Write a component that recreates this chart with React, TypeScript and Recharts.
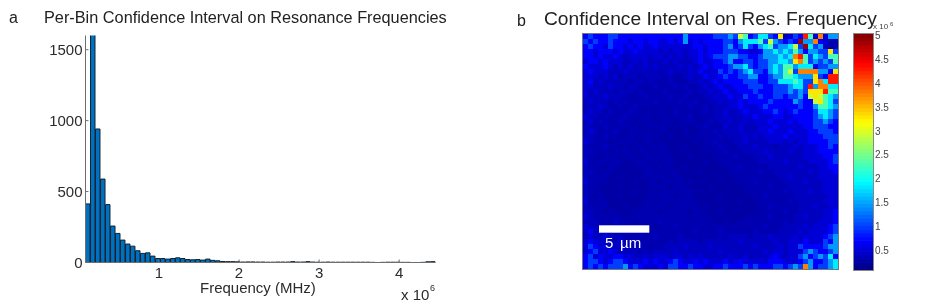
import { Bar, BarChart, Scatter, ScatterChart, XAxis, YAxis } from 'recharts'

// frequency in units of 1e6 (bin centres) and counts per bin
const binCenters = [
  0.113, 0.176, 0.238, 0.301, 0.363, 0.426, 0.488, 0.550, 0.613, 0.675,
  0.738, 0.800, 0.863, 0.925, 0.988, 1.050, 1.113, 1.175, 1.238, 1.300,
  1.363, 1.425, 1.488, 1.550, 1.613, 1.675, 1.738, 1.800, 1.863, 1.925,
  1.988, 2.050, 2.113, 2.175, 2.238, 2.300, 2.363, 2.425, 2.488, 2.550,
  2.613, 2.675, 2.738, 2.800, 2.863, 2.925, 2.988, 3.050, 3.113, 3.175,
  3.238, 3.300, 3.363, 3.425, 3.488, 3.550, 3.613, 3.675, 3.738, 3.800,
  3.863, 3.925, 3.988, 4.050, 4.113, 4.175, 4.238, 4.300, 4.363, 4.425,
]
const binCounts = [
  413, 1800, 941, 588, 408, 257, 205, 158, 130, 115,
  83, 64, 68, 45, 28, 28, 24, 28, 33, 28,
  21, 19, 21, 17, 24, 15, 12, 7, 6, 6,
  5, 3, 4, 4, 3, 3, 2, 2, 3, 3,
  3, 6, 3, 3, 6, 3, 2, 2, 3, 2,
  2, 2, 2, 2, 2, 2, 2, 1, 0, 1,
  2, 2, 2, 1, 1, 0, 0, 1, 5, 6,
]
const freqTicks = [1, 2, 3, 4]
const countTicks = [0, 500, 1000, 1500]
const barData = binCenters.map((f, i) => ({ f, count: binCounts[i] }))

// code letter of each map cell -> confidence interval (x 1e6)
const levelCodes = '123456789abcde'
const levelValues = [0.26, 0.32, 0.39, 0.5, 0.7, 1.0, 1.45, 1.85, 2.3, 2.9, 3.3, 3.8, 4.3, 4.9]

const mapRows = [
  '5655566555 5555555555 7555556667 6a9568865b 3465d94c47 7',
  '6565565554 5545544545 7454555566 5788896a76 565e77c54 2 2',
  '5655465545 4544544444 4455455567 5686578967 78a6e86732 2',
  '5545554544 5444434344 3445455566 6554457787 879757766b 6',
  '5545445434 4443443434 3445456667 7665567778 78cd968769 9',
  '4554544433 4343334343 3345445567 5566566778 87bc967676 9',
  '5444543434 3343433334 3434545556 7786566787 9978885667 7',
  '4544433343 3333323433 3435444656 5678665787 9a6cccc775 b',
  '4443434233 3233332322 3433544565 5667755677 998777b65d d',
  '4534333332 3323222322 2334345455 5566655668 889866bc8d d',
  '4433343323 3222322232 3223434544 5556665566 67886d7cc8 8',
  '4343332333 2322223222 2323343454 4555655566 67676bbbd9 9',
  '4333433322 2232222322 3222334345 4465565566 56675aba98 7',
  '3433323232 2222322223 2232233434 4545555655 557655ab98 6',
  '3334322322 3222122222 2322323334 4544456555 5556557998 7',
  '3433232223 2212222132 2222323343 3454445565 4565556887 6',
  '4332322232 2222122222 2312223343 3344544455 4455556787 6',
  '3423222322 1222212212 2221232334 3343444544 4545556676 5',
  '3322322222 2122222121 2122322243 3433344454 4444556665 5',
  '3432223212 2212122111 2112223233 3433344544 4544455666 5',
  '3322322122 1222211211 1212222323 3343434444 5444455566 6',
  '4322212222 2122121111 1121223222 3343333444 3434455556 6',
  '3222322121 2212222111 2111222322 2333433323 3343444556 5',
  '3322212222 1222122112 1111212232 2233334333 3433444555 5',
  '3221222122 2122222211 1211112222 3222333433 3333444455 6',
  '4222222211 2221212211 1111211222 2222233333 4333344445 6',
  '3222122111 1222122211 2111111122 2322222333 3334333445 5',
  '3321221111 1122212221 1112111112 2222232233 3333343444 5',
  '3222211211 1122222122 1111111211 2222222223 3433333444 4',
  '4222211111 2112212222 1211111111 1222322222 3333433344 4',
  '3221111211 1112222122 2111121111 1122222322 2333333344 4',
  '3222111111 2112122222 2212111111 1112222222 3233343344 4',
  '3212111211 1112222212 2211111211 1111223222 2233333334 4',
  '4222211111 1122122222 2221111111 1211122222 2323333344 4',
  '3222211121 1122222122 2221211111 1111122322 2223334334 4',
  '3322122111 2222212222 2122111211 1111122222 3223333344 5',
  '4322222212 2222222222 2222212111 1112222322 2233433344 5',
  '3332223222 1222232222 2222221121 1222222222 3233333444 5',
  '4333222322 2222122232 2222222222 2222223222 3333434445 6',
  '3534322232 2322222222 2232222322 2222322223 3334344445 6',
  '3433432322 2222322223 2222222323 3332333433 3343444456 7',
  '4544333422 3222222323 3332333333 3433333343 3444544465 7',
  '4654433432 2322223333 4333343333 3333433334 3446555567 7',
  '4564454333 3232333343 3333333433 3333334344 3444676556 7',
  '5645445544 3343444344 3434333334 3343333454 3446756768 5',
  '5665456654 4454544565 4454544454 4544444555 4445675567 8',
  '5656566675 6544454665 5655445565 5565655566 5676c75667 8',
]
const mapData = mapRows.flatMap((row, r) =>
  row.replace(/ /g, '').split('').map((code, c) => ({
    col: c + 0.5,
    row: r + 0.5,
    value: levelValues[levelCodes.indexOf(code)],
  })),
)

const colorbarTicks = [0.5, 1, 1.5, 2, 2.5, 3, 3.5, 4, 4.5, 5]
const colorbarLevels = [
  0.119, 0.196, 0.274, 0.351, 0.429, 0.506, 0.584, 0.661, 0.739, 0.816, 0.894, 0.971, 1.049, 1.126, 1.204, 1.281,
  1.359, 1.436, 1.514, 1.591, 1.669, 1.746, 1.824, 1.901, 1.979, 2.056, 2.134, 2.211, 2.289, 2.366, 2.444, 2.521,
  2.599, 2.676, 2.754, 2.831, 2.909, 2.986, 3.064, 3.141, 3.219, 3.296, 3.374, 3.451, 3.529, 3.606, 3.684, 3.761,
  3.839, 3.916, 3.994, 4.071, 4.149, 4.226, 4.304, 4.381, 4.459, 4.536, 4.614, 4.691, 4.769, 4.846, 4.924, 5.001,
]
const colorbarData = colorbarLevels.map((value) => ({ x: 0.5, value }))

const FONT = '"Liberation Sans", Arial, sans-serif'
const FRAME = '#6e6e6e'
const CMIN = 0.08
const CMAX = 5.04

function jet(v: number) {
  const t = Math.max(0, Math.min(1, (v - CMIN) / (CMAX - CMIN)))
  const ch = (k: number) => Math.round(255 * Math.max(0, Math.min(1, 1.5 - Math.abs(4 * t - k))))
  return `rgb(${ch(3)},${ch(2)},${ch(1)})`
}

const MapCell = (props: any) => (
  <rect x={props.cx - 2.5} y={props.cy - 2.5} width={5} height={5} fill={jet(props.payload.value)} />
)
const ColorbarCell = (props: any) => (
  <rect x={props.cx - 9.5} y={props.cy - 2.2} width={19} height={4.4} fill={jet(props.payload.value)} />
)

const blank = () => ''

export default function App() {
  return (
    <div style={{ position: 'fixed', left: 0, top: 0, width: 926, height: 302, background: '#fff', filter: 'blur(0.45px)' }}>
      <div style={{ position: 'absolute', left: 0, top: 0 }}>
        <BarChart
          width={470}
          height={302}
          data={barData}
          barSize={5}
          margin={{ top: 35.5, right: 34.5, bottom: 0, left: 0 }}
        >
          <XAxis
            dataKey="f"
            type="number"
            domain={[0.082, 4.454]}
            allowDataOverflow
            ticks={freqTicks}
            interval={0}
            height={39.5}
            stroke={FRAME}
            tickSize={-3}
            tickMargin={8}
            tick={{ fill: '#2b2b2b', fontSize: 15, fontFamily: FONT }}
          />
          <XAxis
            xAxisId="top"
            orientation="top"
            type="number"
            domain={[0.082, 4.454]}
            allowDataOverflow
            ticks={freqTicks}
            interval={0}
            height={0}
            stroke={FRAME}
            tickSize={-3}
            tickFormatter={blank}
          />
          <YAxis
            type="number"
            domain={[0, 1600]}
            allowDataOverflow
            ticks={countTicks}
            interval={0}
            width={85.5}
            stroke={FRAME}
            tickSize={-3}
            tickMargin={6}
            tick={{ fill: '#2b2b2b', fontSize: 15, fontFamily: FONT }}
          />
          <YAxis
            yAxisId="right"
            orientation="right"
            type="number"
            domain={[0, 1600]}
            allowDataOverflow
            ticks={countTicks}
            interval={0}
            width={0}
            stroke={FRAME}
            tickSize={-3}
            tickFormatter={blank}
          />
          <Bar dataKey="count" fill="#0070c0" stroke="#12222e" strokeWidth={1} isAnimationActive={false} />
        </BarChart>
      </div>

      <div style={{ position: 'absolute', left: 583, top: 34 }}>
        <ScatterChart width={255} height={235} margin={{ top: 0, right: 0, bottom: 0, left: 0 }}>
          <XAxis dataKey="col" type="number" domain={[0, 51]} hide />
          <YAxis dataKey="row" type="number" domain={[0, 47]} reversed hide />
          <Scatter data={mapData} shape={MapCell} isAnimationActive={false} />
        </ScatterChart>
      </div>

      <div style={{ position: 'absolute', left: 854, top: 24 }}>
        <ScatterChart width={60} height={256} margin={{ top: 10, right: 0, bottom: 10, left: 0 }}>
          <XAxis dataKey="x" type="number" domain={[0, 1]} hide />
          <YAxis
            dataKey="value"
            type="number"
            orientation="right"
            domain={[CMIN, CMAX]}
            ticks={colorbarTicks}
            interval={0}
            width={41}
            axisLine={false}
            stroke="#555"
            tickSize={-2}
            tickMargin={4}
            tick={{ fill: '#444', fontSize: 10, fontFamily: FONT }}
            tickFormatter={(v: number) => String(v)}
          />
          <YAxis
            yAxisId="left"
            type="number"
            domain={[CMIN, CMAX]}
            ticks={colorbarTicks}
            interval={0}
            width={0}
            axisLine={false}
            stroke="#555"
            tickSize={-2}
            tickFormatter={blank}
          />
          <Scatter data={colorbarData} shape={ColorbarCell} isAnimationActive={false} />
        </ScatterChart>
      </div>

      <svg width={926} height={302} style={{ position: 'absolute', left: 0, top: 0, pointerEvents: 'none' }} fontFamily={FONT}>
        <rect x={582.5} y={33.5} width={256} height={236} fill="none" stroke="#777" />
        <rect x={853.5} y={33.5} width={20} height={237} fill="none" stroke="#888" />
        <rect x={599} y={225.3} width={50.3} height={7.4} fill="#fff" />
        <text x={9} y={23} fontSize={16} fill="#222">a</text>
        <text x={44} y={23} fontSize={16.3} fill="#222">Per-Bin Confidence Interval on Resonance Frequencies</text>
        <text x={517} y={26} fontSize={16} fill="#222">b</text>
        <text x={544} y={25} fontSize={19.2} fill="#222">Confidence Interval on Res. Frequency</text>
        <text x={200} y={293} fontSize={15} fill="#2b2b2b">Frequency (MHz)</text>
        <text x={401} y={300} fontSize={15} fill="#2b2b2b">x 10</text>
        <text x={430} y={291} fontSize={9} fill="#2b2b2b">6</text>
        <text x={873} y={29} fontSize={8} fill="#444">x 10</text>
        <text x={890} y={26} fontSize={6} fill="#444">6</text>
        <text y={248} fontSize={15} fill="#fff"><tspan x={605}>5</tspan><tspan x={620}>µm</tspan></text>
      </svg>
    </div>
  )
}
